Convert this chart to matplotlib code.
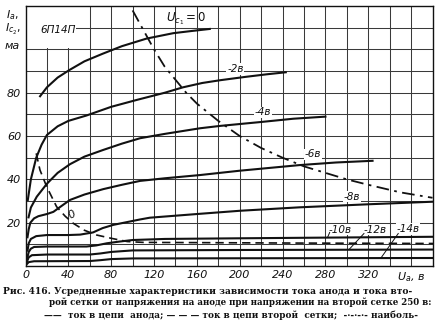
import matplotlib
matplotlib.use("Agg")
import matplotlib.pyplot as plt
import matplotlib.patches as patches
import numpy as np

# anode current curves, one per grid voltage Uc1 (x = Ua in volts, y = Ia in mA)
x_0 = [13, 20, 30, 41, 55, 72, 90, 113, 138, 155, 173]
y_0 = [78, 82.5, 87, 90.5, 94.5, 98, 101.5, 105, 107.5, 108.5, 109.5]

x_2 = [2, 5, 10, 15, 20, 30, 40, 57, 80, 104, 130, 147, 165, 182, 205, 225, 244]
y_2 = [30, 40, 50, 56, 60.5, 64.5, 67, 69.5, 73.5, 76.7, 80, 82.5, 84.5, 85.8, 87.3, 88.5, 89.5]

x_4 = [2.6, 5, 10.5, 20, 30, 41.5, 55, 72.6, 90, 107, 130, 163, 182, 220, 250, 281]
y_4 = [22, 27, 32, 38, 43, 47, 50.5, 53.6, 56.5, 59, 61, 63.6, 64.7, 66.5, 68, 69]

x_6 = [1.7, 3, 4.5, 8, 12, 20, 26, 33, 41.5, 55, 72.6, 90, 107, 130, 163, 200, 256, 290, 325]
y_6 = [12.8, 17, 20, 22, 23, 24, 25, 27.5, 30.5, 33, 35.5, 37.5, 39.3, 40.5, 42, 44, 46.6, 47.8, 48.6]

x_8 = [1.7, 3, 5, 10, 20, 40, 51, 63, 72, 82, 97, 107, 116, 160, 200, 256, 320, 381]
y_8 = [6.6, 10.5, 12.5, 13.8, 14.3, 14.3, 14.5, 15.5, 17.5, 19, 20.5, 21.5, 22.3, 24, 25.5, 27.1, 28.5, 29.7]

x_10 = [0.5, 3, 5, 8, 20, 57, 66, 76, 88, 100, 130, 200, 381]
y_10 = [1.5, 6.5, 8, 8.8, 9, 9, 9.5, 10.5, 11.3, 12, 12.5, 12.8, 13.5]

x_12 = [0.5, 3, 6, 20, 60, 70, 80, 100, 200, 381]
y_12 = [1, 4, 5, 5.3, 5.3, 5.8, 6.5, 7.2, 7.4, 7.6]

x_14 = [0.5, 3, 8, 60, 70, 80, 100, 381]
y_14 = [0.5, 1.8, 2.2, 2.3, 2.7, 3.2, 3.5, 3.7]

# screen grid current at Uc1 = 0
x_g2 = [10, 13.5, 19.8, 29, 37, 44.6, 55, 66.5, 80, 95, 110, 160, 250, 381]
y_g2 = [52, 44.3, 36.6, 27.4, 23, 19.7, 16.5, 14.3, 12.8, 11.3, 10.9, 10.8, 10.6, 10.4]

# max dissipation line
x_pmax = [100, 110, 120, 130, 140, 150, 160, 180, 200, 220, 240, 260, 280, 300, 320, 350, 380]
y_pmax = [118, 109, 100, 92, 86, 80, 75, 67, 60, 54.5, 50, 46, 43, 40, 37.5, 34, 31.5]

x_ticks = [0, 40, 80, 120, 160, 200, 240, 280, 320, 360]
x_ticklabels = ["0", "40", "80", "120", "160", "200", "240", "280", "320", "$U_a$, в"]
y_ticks = [20, 40, 60, 80]

curves = [(x_0, y_0), (x_2, y_2), (x_4, y_4), (x_6, y_6), (x_8, y_8),
          (x_10, y_10), (x_12, y_12), (x_14, y_14)]

fig = plt.figure(figsize=(4.43, 3.21), dpi=100)
ax = fig.add_axes([0.0576, 0.1713, 0.9187, 0.8097])
ax.set_xlim(0, 380)
ax.set_ylim(0, 120)

ink = "#111111"
for xv in range(20, 380, 20):
    ax.axvline(xv, color="#3a3a3a", lw=0.75, zorder=1)
for yv in range(10, 120, 10):
    ax.axhline(yv, color="#3a3a3a", lw=0.75, zorder=1)
for s in ax.spines.values():
    s.set_color(ink)
    s.set_linewidth(1.0)

# blank corner for the tube name
ax.add_patch(patches.Rectangle((0, 100.5), 47, 19.5, facecolor="white", edgecolor="none", zorder=2))

for xs, ys in curves:
    ax.plot(xs, ys, color=ink, lw=1.5, zorder=3, solid_capstyle="butt")
ax.plot(x_g2, y_g2, color=ink, lw=1.2, ls=(0, (5, 3)), zorder=3)
ax.plot(x_pmax, y_pmax, color=ink, lw=1.3, ls=(0, (7, 3, 1.5, 3)), zorder=3)

tf = dict(fontsize=7.5, style="italic", color=ink, zorder=4)
box = dict(facecolor="white", edgecolor="none", pad=0.5)
ax.text(150, 114, "$U_{c_1}=0$", ha="center", va="center", fontsize=8.5, color=ink, zorder=4)
ax.text(196, 91, "-2в", ha="center", va="center", bbox=box, **tf)
ax.text(222, 71, "-4в", ha="center", va="center", bbox=box, **tf)
ax.text(268, 51.5, "-6в", ha="center", va="center", bbox=box, **tf)
ax.text(305, 32, "-8в", ha="center", va="center", bbox=box, **tf)
ax.text(294, 16.8, "-10в", ha="center", va="center", bbox=box, **tf)
ax.text(326, 16.8, "-12в", ha="center", va="center", bbox=box, **tf)
ax.text(357, 17, "-14в", ha="center", va="center", bbox=box, **tf)
ax.plot([316, 302], [15, 7.6], color=ink, lw=0.7, zorder=4)
ax.plot([348, 332], [15, 3.8], color=ink, lw=0.7, zorder=4)
ax.plot([284, 282], [15.5, 13.2], color=ink, lw=0.7, zorder=4)
ax.text(43, 23.5, "0", ha="center", va="center", rotation=30, fontsize=8, style="italic", color=ink, zorder=4)
ax.text(30, 109, "6П14П", ha="center", va="center", fontsize=7.5, style="italic", color=ink, zorder=4)

# y label stacked at the top left
ax.text(-12, 116, "$I_a,$", ha="center", va="center", fontsize=8, color=ink, clip_on=False)
ax.text(-12, 109, "$I_{c_2},$", ha="center", va="center", fontsize=8, color=ink, clip_on=False)
ax.text(-12, 101.5, "ма", ha="center", va="center", fontsize=8, style="italic", color=ink, clip_on=False)

ax.set_xticks(x_ticks)
ax.set_xticklabels(x_ticklabels, fontsize=8, style="italic", color=ink)
ax.set_yticks(y_ticks)
ax.set_yticklabels([str(v) for v in y_ticks], fontsize=8, style="italic", color=ink)
ax.tick_params(length=0, pad=3)

# caption lines
cap = dict(va="center", fontweight="bold", family="DejaVu Serif", color=ink)
fig.text(3 / 443, 1 - 291 / 321,
         "Рис. 416. Усредненные характеристики зависимости тока анода и тока вто-",
         fontsize=6.55, **cap)
fig.text(49 / 443, 1 - 302 / 321,
         "рой сетки от напряжения на аноде при напряжении на второй сетке 250 в:",
         fontsize=6.2, **cap)
fig.text(44 / 443, 1 - 315 / 321,
         "——  ток в цепи  анода; — — — ток в цепи второй  сетки;  -·-·-·- наиболь-",
         fontsize=6.4, **cap)

fig.savefig("out.png", dpi=100)
